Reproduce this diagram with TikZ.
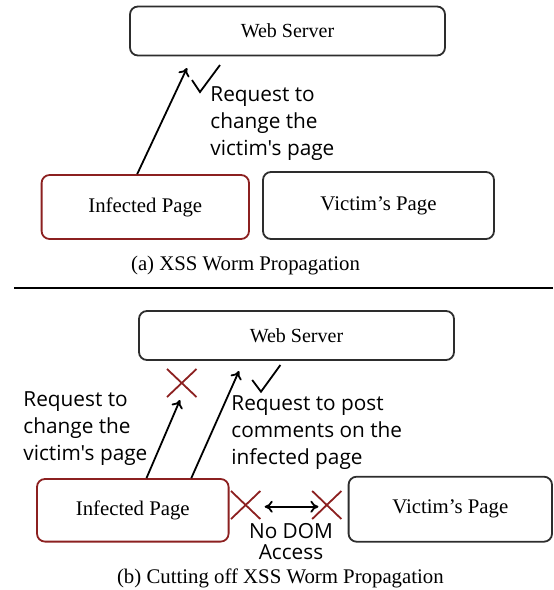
\documentclass[tikz,border=0pt]{standalone}
\usepackage{fontspec}
\usepackage{xcolor}
\usetikzlibrary{arrows.meta,calc}
\setmainfont{Liberation Serif}
\newfontfamily\notefont{Open Sans}
\definecolor{wormred}{RGB}{140,32,32}
\definecolor{boxgray}{RGB}{45,45,45}

\begin{document}
\begin{tikzpicture}[x=0.5pt, y=-0.5pt,
    page/.style={draw=boxgray, line width=0.9pt, rounded corners=4pt, inner sep=0pt, font=\fontsize{10.4}{12}\selectfont},
    server/.style={page, minimum width=157.5pt, minimum height=24.5pt, font=\fontsize{10}{12}\selectfont},
    infected/.style={page, draw=wormred},
    note/.style={anchor=west, align=left, inner sep=0pt, font=\notefont\fontsize{10.4}{13.5}\selectfont},
    caption/.style={inner sep=0pt, font=\fontsize{10.4}{12}\selectfont},
    req/.style={line width=0.9pt, -{To[length=4pt,width=6pt]}},
    cut/.style={draw=wormred, line width=0.9pt},
    ok/.style={draw=black, line width=0.9pt}]
    \useasboundingbox (0,0) rectangle (553,590);

    % (a) propagation
    \node[server] (srva) at (287.5,31) {Web Server};
    \node[infected, minimum width=103.7pt, minimum height=32pt] (infa) at (145.3,207) {Infected Page};
    \node[page, minimum width=115.5pt, minimum height=33.5pt] (vica) at (378.5,205.5) {Victim's Page};
    \node[note] (notea) at (210,124) {Request to\\change the\\victim's page};
    \node[caption] (capa) at (245.5,266) {(a) XSS Worm Propagation};
    \coordinate (upa) at (187,68);
    \draw[req] ($(infa.north west)+(96.5,0)$) -- (upa);
    \draw[ok] (192,80) -- (200,92) -- (220,65);

    \draw[line width=0.6pt] (14,288) -- (553,288);

    % (b) cut off
    \node[server] (srvb) at (296.5,335.5) {Web Server};
    \node[infected, minimum width=95.8pt, minimum height=31.3pt] (infb) at (132.8,510.3) {Infected Page};
    \node[page, minimum width=101.7pt, minimum height=32.5pt] (vicb) at (450.3,509.2) {Victim's Page};
    \node[note] (noteb1) at (23,429) {Request to\\change the\\victim's page};
    \node[note] (noteb2) at (231,433) {Request to post\\comments on the\\infected page};
    \node[inner sep=0pt, align=center, font=\notefont\fontsize{10.4}{10.5}\selectfont] (nodom) at (291,541.5) {No DOM\\Access};
    \node[caption] (capb) at (280.4,578) {(b) Cutting off XSS Worm Propagation};
    \coordinate (upb1) at (180,400);
    \coordinate (upb2) at (239,371);
    \draw[req] ($(infb.north west)+(110.4,0)$) -- (upb1);
    \draw[req] ($(infb.north west)+(155.2,0)$) -- (upb2);
    \draw[req, {To[length=4pt,width=6pt]}-{To[length=4pt,width=6pt]}] ($(infb.east)+(35.2,-3.6)$) -- ($(vicb.west)+(-29.3,-2.5)$);
    \draw[cut] (167,369) -- (196.5,397) (167,397) -- (196.5,369);
    \draw[cut] (231,491) -- (260.3,519) (231,519) -- (260.3,491);
    \draw[cut] (312.2,491) -- (341.4,519) (312.2,519) -- (341.4,491);
    \draw[ok] (252.2,380) -- (261,391.7) -- (280.4,365);
\end{tikzpicture}
\end{document}
